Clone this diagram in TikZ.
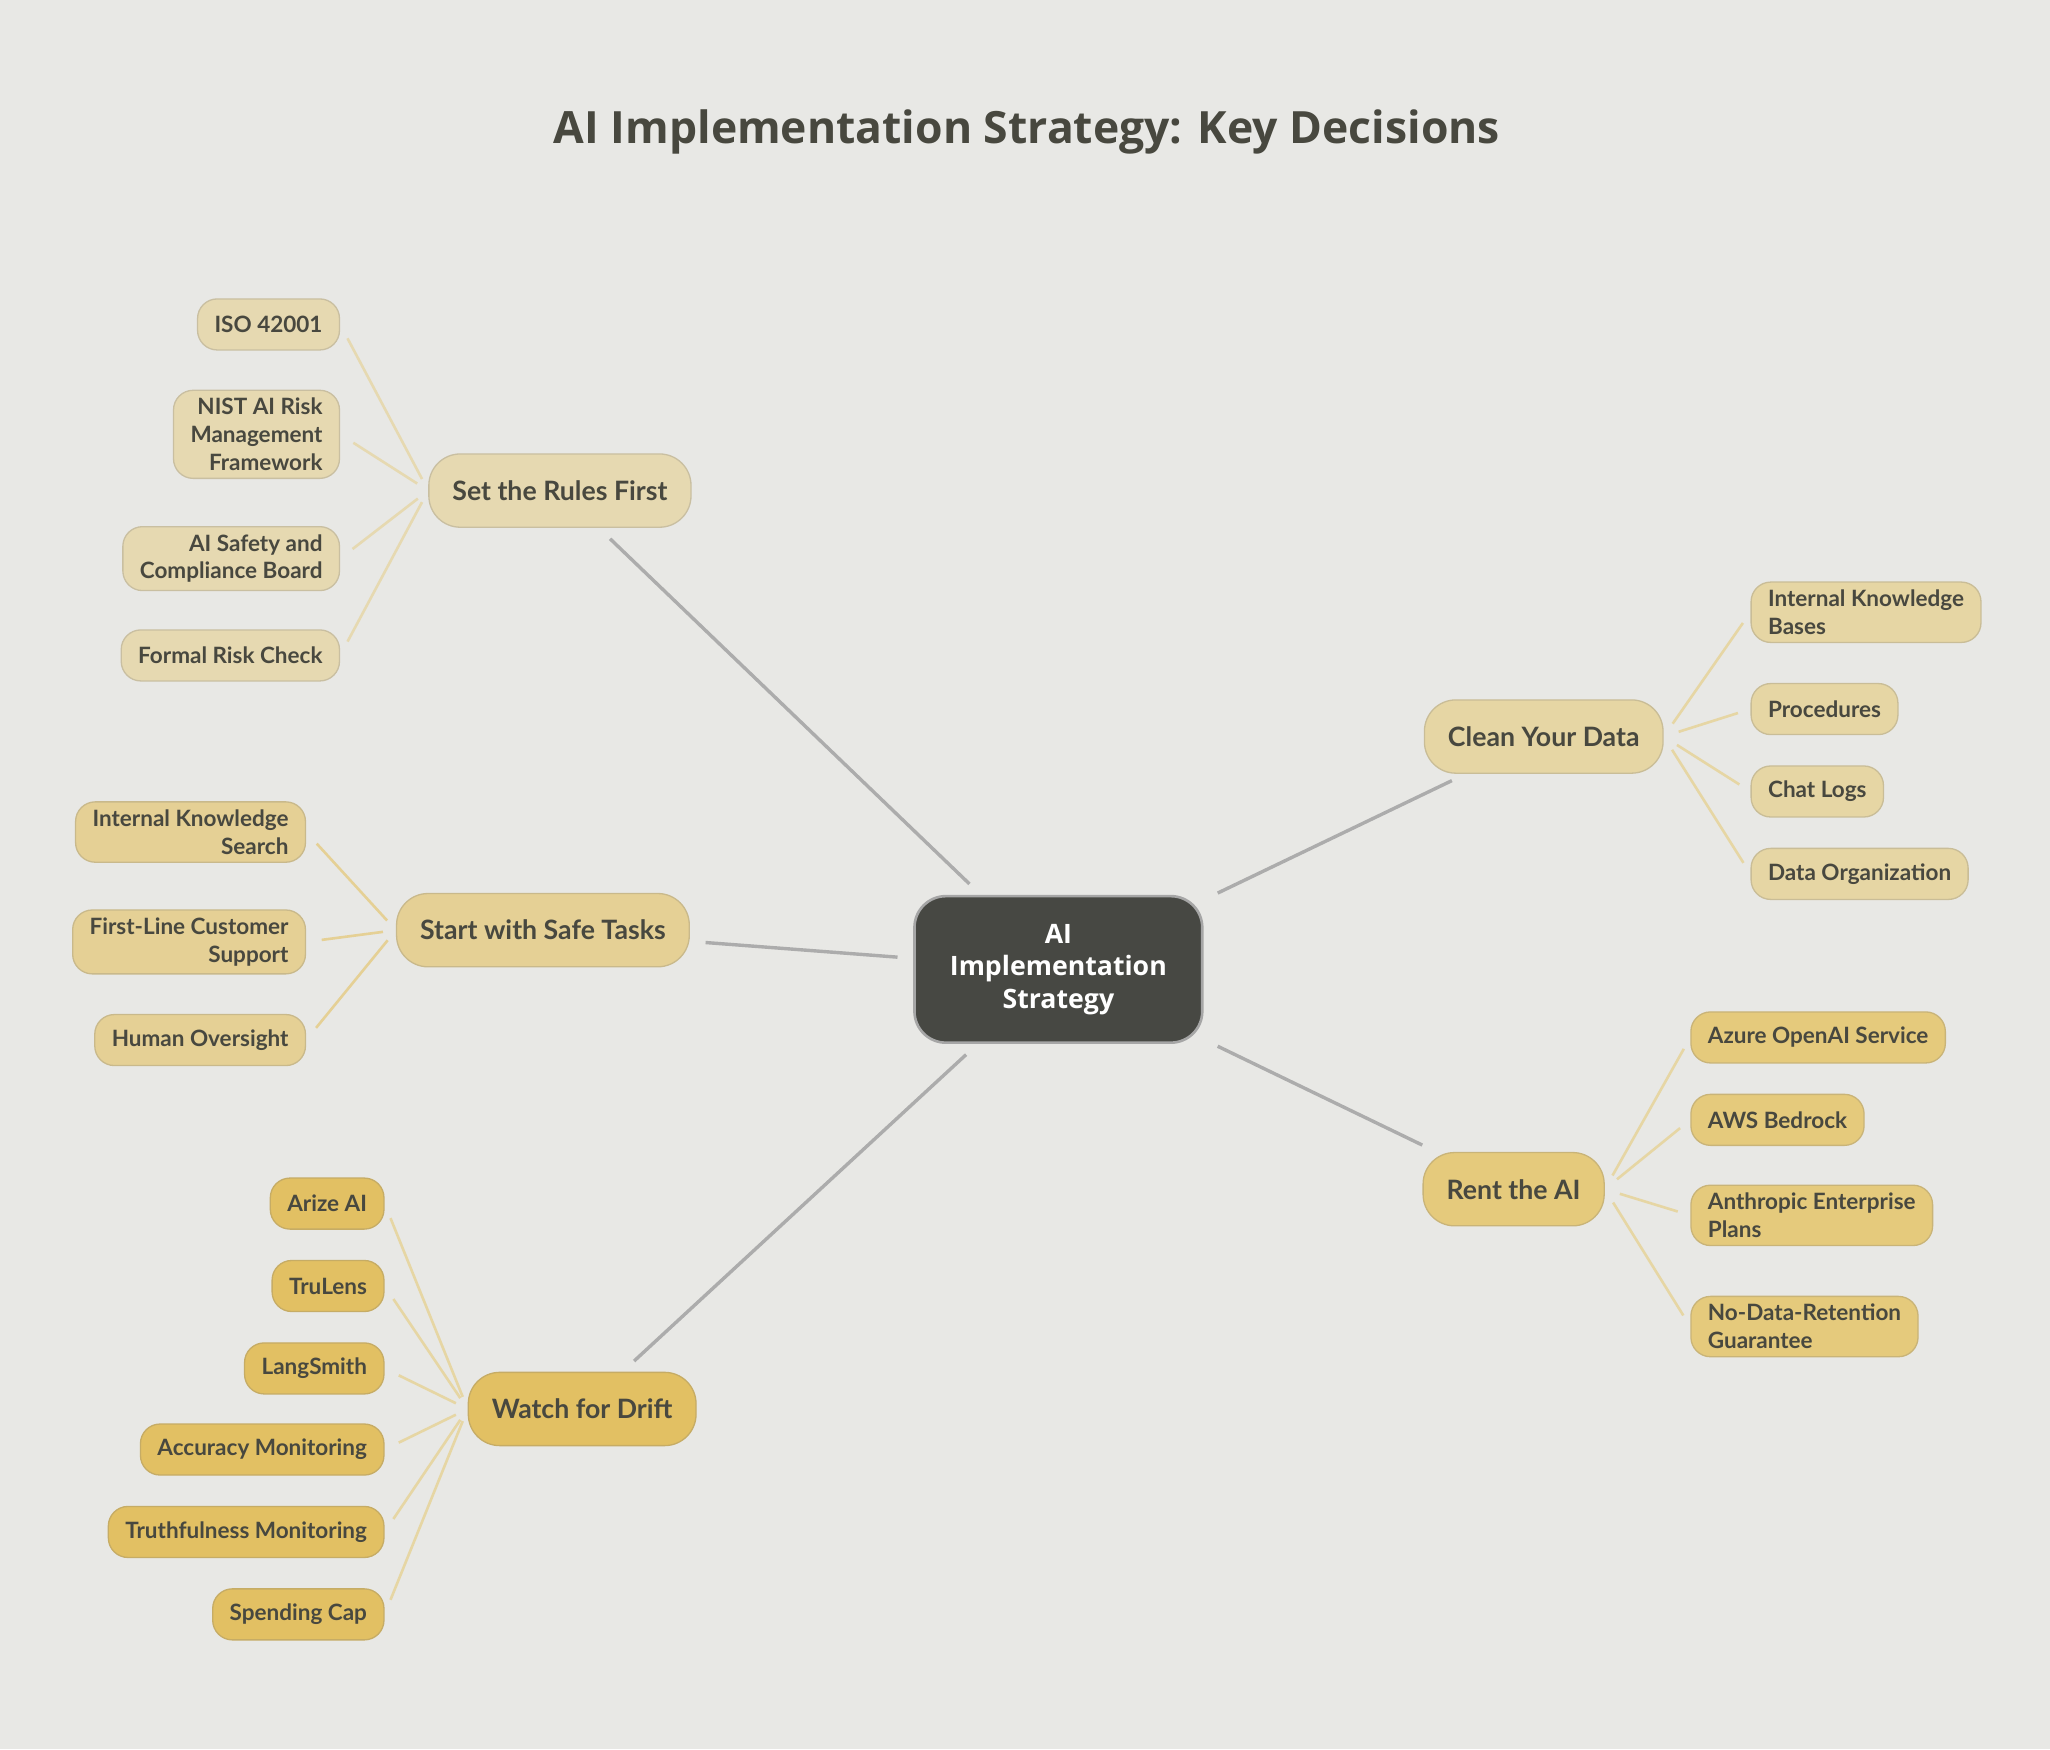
\documentclass[tikz,border=0pt]{standalone}
\usepackage{fontspec}
\setmainfont{Lato}
\newfontfamily\titlefont{Open Sans}
\begin{document}
\begin{tikzpicture}[x=0.5pt,y=-0.5pt,
 every node/.style={text=txt},
 leaf/.style={rounded corners=7.5pt,minimum height=19.5pt,inner xsep=6.5pt,inner ysep=3pt,font=\fontsize{8.6}{10.6}\selectfont\bfseries,draw=#1!85!black!90,line width=0.5pt,fill=#1},
 mid/.style={rounded corners=12pt,minimum height=28pt,inner xsep=9pt,font=\fontsize{10.2}{12}\selectfont\bfseries,fill=#1,draw=#1!85!black!90,line width=0.5pt},
 main/.style={draw=gray!65,line width=1.3pt,shorten <=6pt,shorten >=6pt},
 twig/.style={draw=#1,line width=1pt,shorten <=6pt,shorten >=5pt}]
\definecolor{bg}{HTML}{E8E8E5}\definecolor{txt}{HTML}{48483F}
\definecolor{cA}{HTML}{E6D9B1}\definecolor{cB}{HTML}{E5D095}
\definecolor{cC}{HTML}{E2C063}\definecolor{cD}{HTML}{E6D6A4}
\definecolor{cE}{HTML}{E5CA7C}\definecolor{ctr}{HTML}{474843}
\fill[bg] (0,0) rectangle (1567,1337);
\useasboundingbox (0,0) rectangle (1567,1337);
\node[font=\titlefont\fontsize{17}{20}\selectfont\bfseries] (title) at (785,101) {AI Implementation Strategy: Key Decisions};
\node[fill=ctr,draw=gray!70,line width=1pt,rounded corners=12pt,minimum width=110pt,minimum height=56pt,align=center,text=white,font=\titlefont\fontsize{10.2}{12.5}\selectfont\bfseries] (c) at (809,741) {AI\\Implementation\\Strategy};
\node[mid=cA] (r) at (428,375) {Set the Rules First};
\node[mid=cB] (s) at (415,711) {Start with Safe Tasks};
\node[mid=cC] (w) at (445,1077) {Watch for Drift};
\node[mid=cD] (d) at (1180,563) {Clean Your Data};
\node[mid=cE] (a) at (1157,909) {Rent the AI};
\draw[main] (c) -- (r);\draw[main] (c) -- (s);\draw[main] (c) -- (w);
\draw[main] (c) -- (d);\draw[main] (c) -- (a);
% rules
\node[leaf=cA,anchor=east] (r1) at (260,248) {ISO 42001};
\node[leaf=cA,anchor=east,align=right] (r2) at (260,332) {NIST AI Risk\\Management\\Framework};
\node[leaf=cA,anchor=east,align=right] (r3) at (260,427) {AI Safety and\\Compliance Board};
\node[leaf=cA,anchor=east] (r4) at (260,501) {Formal Risk Check};
\foreach \n in {r1,r2,r3,r4} \draw[twig=cA] (\n.east) -- (r.west);
% safe
\node[leaf=cB,anchor=east,align=right] (s1) at (234,636) {Internal Knowledge\\Search};
\node[leaf=cB,anchor=east,align=right] (s2) at (234,720) {First-Line Customer\\Support};
\node[leaf=cB,anchor=east] (s3) at (234,795) {Human Oversight};
\foreach \n in {s1,s2,s3} \draw[twig=cB] (\n.east) -- (s.west);
% watch
\node[leaf=cC,anchor=east] (w1) at (294,920) {Arize AI};
\node[leaf=cC,anchor=east] (w2) at (294,983) {TruLens};
\node[leaf=cC,anchor=east] (w3) at (294,1046) {LangSmith};
\node[leaf=cC,anchor=east] (w4) at (294,1108) {Accuracy Monitoring};
\node[leaf=cC,anchor=east] (w5) at (294,1171) {Truthfulness Monitoring};
\node[leaf=cC,anchor=east] (w6) at (294,1234) {Spending Cap};
\foreach \n in {w1,w2,w3,w4,w5,w6} \draw[twig=cD] (\n.east) -- (w.west);
% data
\node[leaf=cD,anchor=west,align=left] (d1) at (1338,468) {Internal Knowledge\\Bases};
\node[leaf=cD,anchor=west] (d2) at (1338,542) {Procedures};
\node[leaf=cD,anchor=west] (d3) at (1338,605) {Chat Logs};
\node[leaf=cD,anchor=west] (d4) at (1338,668) {Data Organization};
\foreach \n in {d1,d2,d3,d4} \draw[twig=cD] (d.east) -- (\n.west);
% rent
\node[leaf=cE,anchor=west] (a1) at (1292,793) {Azure OpenAI Service};
\node[leaf=cE,anchor=west] (a2) at (1292,856) {AWS Bedrock};
\node[leaf=cE,anchor=west,align=left] (a3) at (1292,929) {Anthropic Enterprise\\Plans};
\node[leaf=cE,anchor=west,align=left] (a4) at (1292,1014) {No-Data-Retention\\Guarantee};
\foreach \n in {a1,a2,a3,a4} \draw[twig=cD] (a.east) -- (\n.west);
\end{tikzpicture}
\end{document}
